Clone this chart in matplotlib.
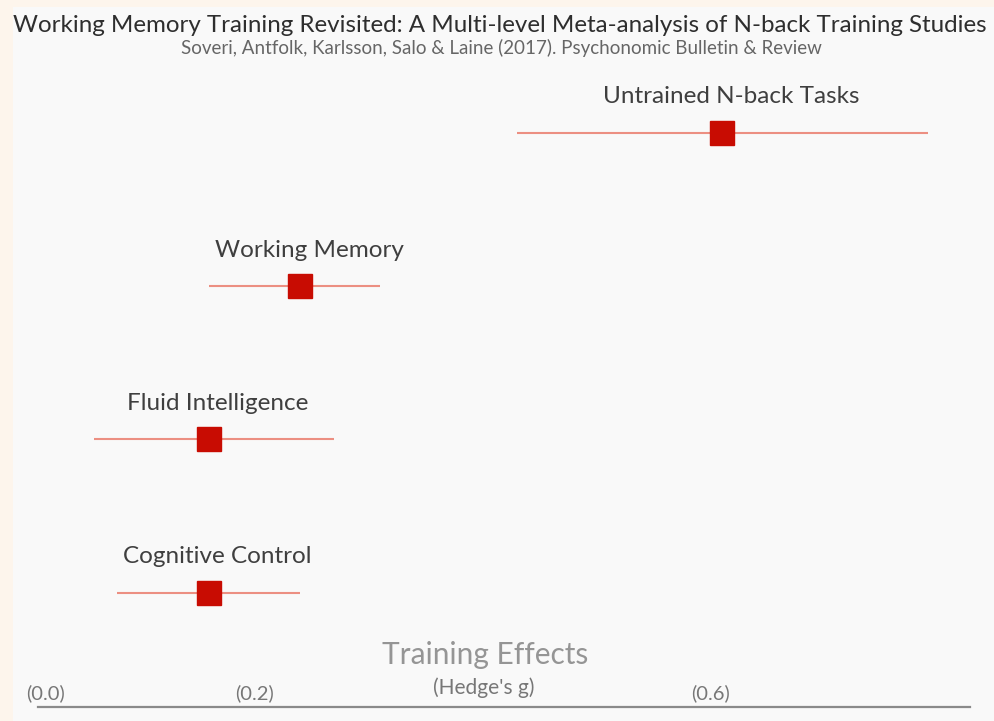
import matplotlib
matplotlib.use("Agg")
from matplotlib import pyplot as plt
from matplotlib.patches import Rectangle

# Soveri et al. (2017) pooled effects, Hedge's g with 95% CI
outcomes = ["Untrained N-back Tasks", "Working Memory", "Fluid Intelligence", "Cognitive Control"]
effect = [0.61, 0.24, 0.16, 0.16]
ci_low = [0.43, 0.16, 0.06, 0.08]
ci_high = [0.79, 0.31, 0.27, 0.24]
tick_vals = [0.0, 0.2, 0.6]
tick_labels = ["(0.0)", "(0.2)", "(0.6)"]

plt.rcParams["font.family"] = ["Lato", "DejaVu Sans"]

W, H = 995, 721
fig = plt.figure(figsize=(W / 100, H / 100), dpi=100)
fig.patch.set_facecolor("#fdf5ec")
# light panel on top of the peach border
fig.patches.append(Rectangle((13 / W, 0), 1, 1 - 7 / H, transform=fig.transFigure,
                             facecolor="#f9f9f9", edgecolor="none", zorder=-1))

ax = fig.add_axes([26 / W, 14 / H, 944 / W, 637 / H])
ax.set_facecolor("none")
ax.set_zorder(2)

ypos = list(range(len(outcomes) - 1, -1, -1))
for name, g, lo, hi, y in zip(outcomes, effect, ci_low, ci_high, ypos):
    ax.plot([lo, hi], [y, y], color="#ec8f82", lw=1.5, solid_capstyle="butt", zorder=2)
    ax.plot(g, y, marker="s", ms=17, color="#c80c02", mec="#c80c02", zorder=3)
    ax.annotate(name, (g, y), xytext=(6.5, 26), textcoords="offset points",
                ha="center", va="center", fontsize=17.5, color="#3f3f3f")

ax.set_xlim(0.0, 0.827)
ax.set_ylim(-0.745, 3.41)
ax.set_yticks([])
for side in ["top", "right", "left"]:
    ax.spines[side].set_visible(False)
ax.spines["bottom"].set_color("#8a8a8a")
ax.spines["bottom"].set_linewidth(1.6)
ax.spines["bottom"].set_bounds(0.0105, 0.827)

ax.set_xticks(tick_vals)
ax.set_xticklabels(tick_labels)
ax.tick_params(axis="x", length=0, pad=-3.5, labelsize=14.5, labelcolor="#777777")
for lbl in ax.get_xticklabels():
    lbl.set_verticalalignment("bottom")
ax.get_xticklabels()[0].set_horizontalalignment("left")

fig.text(485 / W, 1 - 655 / H, "Training Effects", ha="center", va="center",
         fontsize=21.5, color="#959595")
fig.text(484 / W, 1 - 688 / H, "(Hedge's g)", ha="center", va="center",
         fontsize=15, color="#777777")

fig.text(500 / W, 1 - 25 / H,
         "Working Memory Training Revisited: A Multi-level Meta-analysis of N-back Training Studies",
         ha="center", va="center", fontsize=17.4, color="#2e2e2e")
fig.text(501 / W, 1 - 48 / H,
         "Soveri, Antfolk, Karlsson, Salo & Laine (2017). Psychonomic Bulletin & Review",
         ha="center", va="center", fontsize=13.5, color="#666666")

fig.savefig("out.png", dpi=100, facecolor=fig.get_facecolor())
